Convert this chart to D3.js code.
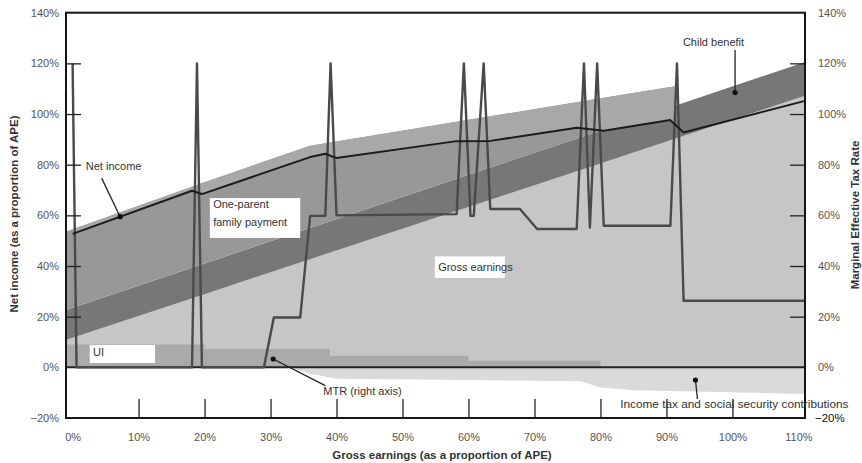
<!DOCTYPE html>
<html>
<head>
<meta charset="utf-8">
<script src="https://cdn.jsdelivr.net/npm/d3@7"></script>
<style>
  body { margin: 0; background: #fff; }
  svg { display: block; font-family: "Liberation Sans", Arial, sans-serif; }
</style>
</head>
<body>
<svg id="chart" width="862" height="463"></svg>
<script>
// ---- Gross income components, % of APE, along gross earnings (proportion of APE)
const grid      = [-0.01, 0, 0.2, 0.36, 0.6, 0.8, 0.913, 0.914, 1.11];
const grossEarn = [10.8, 11.7, 28.9, 42.7, 63.3, 80.5, 90.2, 90.3, 107.2];
const childBen  = [11.8, 11.8, 12.1, 12.3, 12.7, 12.9, 13.1, 13.1, 13.3];
const oneParent = [31.0, 31.0, 32.1, 32.5, 21.7, 12.8, 7.7, 0, 0];

// UI (stepped levels, each level holds until the next break)
const uiBreaks = [-0.01, 0.2, 0.39, 0.6, 0.8];
const uiLevels = [9.0, 7.2, 4.6, 2.6, 0];

// Income tax and social security contributions (negative)
const taxX   = [0.33, 0.36, 0.40, 0.6, 0.77, 0.80, 0.85, 1.11];
const taxVal = [0, -2.5, -4.5, -5.0, -5.5, -8.0, -9.0, -10.5];

// Net income
const netX   = [0, 0.181, 0.196, 0.36, 0.383, 0.40, 0.582, 0.633, 0.764, 0.805, 0.906, 0.926, 1.11];
const netVal = [52.7, 69.7, 68.4, 83.0, 84.3, 82.6, 89.3, 89.4, 94.6, 93.4, 97.6, 92.7, 105.2];

// Marginal effective tax rate (right axis)
const mtrX   = [0, 0.006, 0.181, 0.1885, 0.196, 0.29, 0.305, 0.345, 0.36, 0.383, 0.391, 0.40,
                0.582, 0.593, 0.603, 0.608, 0.623, 0.633, 0.678, 0.704,
                0.764, 0.775, 0.784, 0.795, 0.805, 0.906, 0.916, 0.926, 1.11];
const mtrVal = [120, 0, 0, 120, 0, 0, 19.7, 19.7, 59.8, 59.8, 120, 60,
                60.5, 120, 59.8, 59.8, 120, 62.5, 62.5, 54.6,
                54.6, 120, 55.2, 120, 55.9, 55.9, 120, 26.3, 26.3];

// Axis ticks
const yTickLabels = [-20, 0, 20, 40, 60, 80, 100, 120, 140];
const yInnerTicks = [20, 40, 60, 80, 100, 120];
const xTickLabels = [0, 0.1, 0.2, 0.3, 0.4, 0.5, 0.6, 0.7, 0.8, 0.9, 1.0, 1.1];
const xInnerTicks = [0.1, 0.2, 0.3, 0.4, 0.5, 0.6, 0.7, 0.8, 0.9, 1.0];

// ---- Layout
const L = 66, R = 805, T = 12.7, B = 418;
const svg = d3.select("#chart");
const x = d3.scaleLinear().domain([-0.01, 1.11]).range([L, R]);
const y = d3.scaleLinear().domain([-20, 140]).range([B, T]);
const pct = d => d3.format(".0f")(d) + "%";

const plot = svg.append("g");

// Stacked gross income
const rows = grid.map((g, i) => ({ earn: g, gross: grossEarn[i], child: childBen[i], opfp: oneParent[i] }));
const keys = ["gross", "child", "opfp"];
const fills = { gross: "#c6c6c6", child: "#777777", opfp: "#989898" };
const series = d3.stack().keys(keys)(rows);
const stackArea = d3.area()
  .x(d => x(d.data.earn))
  .y0(d => y(d[0]))
  .y1(d => y(d[1]));
plot.selectAll("path.layer").data(series).join("path")
  .attr("class", "layer")
  .attr("fill", s => fills[s.key])
  .attr("d", stackArea);

// Part of gross income above net income while the one-parent payment is paid
const totalAt = d3.scaleLinear().domain(grid).range(grid.map((g, i) => grossEarn[i] + childBen[i] + oneParent[i]));
const netAt = d3.scaleLinear().domain(netX).range(netVal).clamp(true);
const opfpEnd = grid[grid.indexOf(0.913)];
const bandX = Array.from(new Set([...netX, ...grid].filter(v => v >= 0 && v <= opfpEnd))).sort(d3.ascending);
plot.append("path")
  .datum(bandX)
  .attr("fill", "#a8a8a8")
  .attr("d", d3.area().x(d => x(d)).y0(d => y(netAt(d))).y1(d => y(totalAt(d))));

// UI
plot.append("path")
  .datum(uiBreaks.map((b, i) => ({ earn: b, v: uiLevels[i] })))
  .attr("fill", "#aaaaaa")
  .attr("d", d3.area().curve(d3.curveStepAfter).x(d => x(d.earn)).y0(y(0)).y1(d => y(d.v)));

// Income tax and social security contributions
plot.append("path")
  .datum(taxX.map((t, i) => ({ earn: t, v: taxVal[i] })))
  .attr("fill", "#dadada")
  .attr("d", d3.area().x(d => x(d.earn)).y0(y(0)).y1(d => y(d.v)));

// Zero line
plot.append("line")
  .attr("x1", L).attr("x2", R).attr("y1", y(0)).attr("y2", y(0))
  .attr("stroke", "#222").attr("stroke-width", 2);

// White label boxes
const boxes = [
  { x0: 0.208, x1: 0.345, v0: 51.1, v1: 66.8 },
  { x0: 0.549, x1: 0.655, v0: 35.3, v1: 43.8 },
  { x0: 0.026, x1: 0.125, v0: 1.7, v1: 8.8 }
];
plot.selectAll("rect.box").data(boxes).join("rect")
  .attr("class", "box")
  .attr("x", d => x(d.x0)).attr("width", d => x(d.x1) - x(d.x0))
  .attr("y", d => y(d.v1)).attr("height", d => y(d.v0) - y(d.v1))
  .attr("fill", "#fff");

// MTR line
plot.append("path")
  .datum(mtrX.map((m, i) => [m, mtrVal[i]]))
  .attr("fill", "none").attr("stroke", "#4a4a4a").attr("stroke-width", 2.4)
  .attr("stroke-linejoin", "round")
  .attr("d", d3.line().x(d => x(d[0])).y(d => y(d[1])));

// Net income line
plot.append("path")
  .datum(netX.map((n, i) => [n, netVal[i]]))
  .attr("fill", "none").attr("stroke", "#1c1c1c").attr("stroke-width", 2)
  .attr("stroke-linejoin", "round")
  .attr("d", d3.line().x(d => x(d[0])).y(d => y(d[1])));

// ---- Axes
const axisText = g => g.selectAll("text")
  .attr("font-size", 11).attr("fill", "#555").attr("font-family", "Liberation Sans, Arial, sans-serif");
const noDomain = g => g.select(".domain").remove();

svg.append("g").attr("transform", `translate(${L},0)`)
  .call(d3.axisLeft(y).tickValues(yTickLabels).tickSize(0).tickPadding(7).tickFormat(pct))
  .call(noDomain).call(axisText);
svg.append("g").attr("transform", `translate(${L},0)`)
  .call(d3.axisRight(y).tickValues(yInnerTicks).tickSize(15).tickFormat(""))
  .call(noDomain).selectAll("line").attr("stroke", "#222").attr("stroke-width", 1.3);

svg.append("g").attr("transform", `translate(${R},0)`)
  .call(d3.axisRight(y).tickValues(yTickLabels.filter(v => v >= 0)).tickSize(0).tickPadding(13).tickFormat(pct))
  .call(noDomain).call(axisText);
svg.append("g").attr("transform", `translate(${R},0)`)
  .call(d3.axisLeft(y).tickValues(yInnerTicks).tickSize(15).tickFormat(""))
  .call(noDomain).selectAll("line").attr("stroke", "#222").attr("stroke-width", 1.3);
svg.append("text")
  .attr("x", R + 10).attr("y", y(-20) + 4)
  .attr("font-size", 11.5).attr("fill", "#111")
  .text(pct(-20));

svg.append("g").attr("transform", `translate(0,${B})`)
  .call(d3.axisBottom(x).tickValues(xTickLabels).tickSize(0).tickPadding(15).tickFormat(d => pct(d * 100)))
  .call(noDomain).call(axisText);
svg.append("g").attr("transform", `translate(0,${B})`)
  .call(d3.axisTop(x).tickValues(xInnerTicks).tickSize(19).tickFormat(""))
  .call(noDomain).selectAll("line").attr("stroke", "#222").attr("stroke-width", 1.3);

// Frame
svg.append("rect")
  .attr("x", L).attr("y", T).attr("width", R - L).attr("height", B - T)
  .attr("fill", "none").attr("stroke", "#151515").attr("stroke-width", 2);

// Axis titles
const title = { "font-size": 11.5, "font-weight": "bold", "fill": "#333", "text-anchor": "middle" };
const addTitle = (tx, ty, rot, txt) => {
  const t = svg.append("text").attr("transform", `translate(${tx},${ty}) rotate(${rot})`).text(txt);
  Object.entries(title).forEach(([k, v]) => t.attr(k, v));
};
addTitle(442, 459, 0, "Gross earnings (as a proportion of APE)");
addTitle(17.5, 214, -90, "Net income (as a proportion of APE)");
addTitle(859, 215, -90, "Marginal Effective Tax Rate");

// ---- Annotations
const ann = svg.append("g").attr("font-size", 11).attr("fill", "#333");
const label = (e, v, txt, size) => ann.append("text").attr("x", x(e)).attr("y", y(v))
  .attr("font-size", size || 11).text(txt);
const pointer = (e0, v0, e1, v1) => {
  ann.append("line").attr("x1", x(e0)).attr("y1", y(v0)).attr("x2", x(e1)).attr("y2", y(v1))
    .attr("stroke", "#222").attr("stroke-width", 1.3);
  ann.append("circle").attr("cx", x(e1)).attr("cy", y(v1)).attr("r", 2.6).attr("fill", "#111");
};

label(0.020, 77.9, "Net income");
pointer(0.044, 74.7, 0.072, netAt(0.072));

label(0.213, 63.0, "One-parent");
label(0.213, 55.6, "family payment");

label(0.554, 38.0, "Gross earnings");
label(0.031, 4.3, "UI");

label(0.925, 126.9, "Child benefit");
pointer(1.004, 125.3, 1.004, 108.5);

label(0.380, -10.9, "MTR (right axis)");
pointer(0.383, -7.2, 0.304, 3.3);

label(0.830, -16.1, "Income tax and social security contributions", 11.8);
pointer(0.947, -12.5, 0.944, -5.0);
</script>
</body>
</html>
